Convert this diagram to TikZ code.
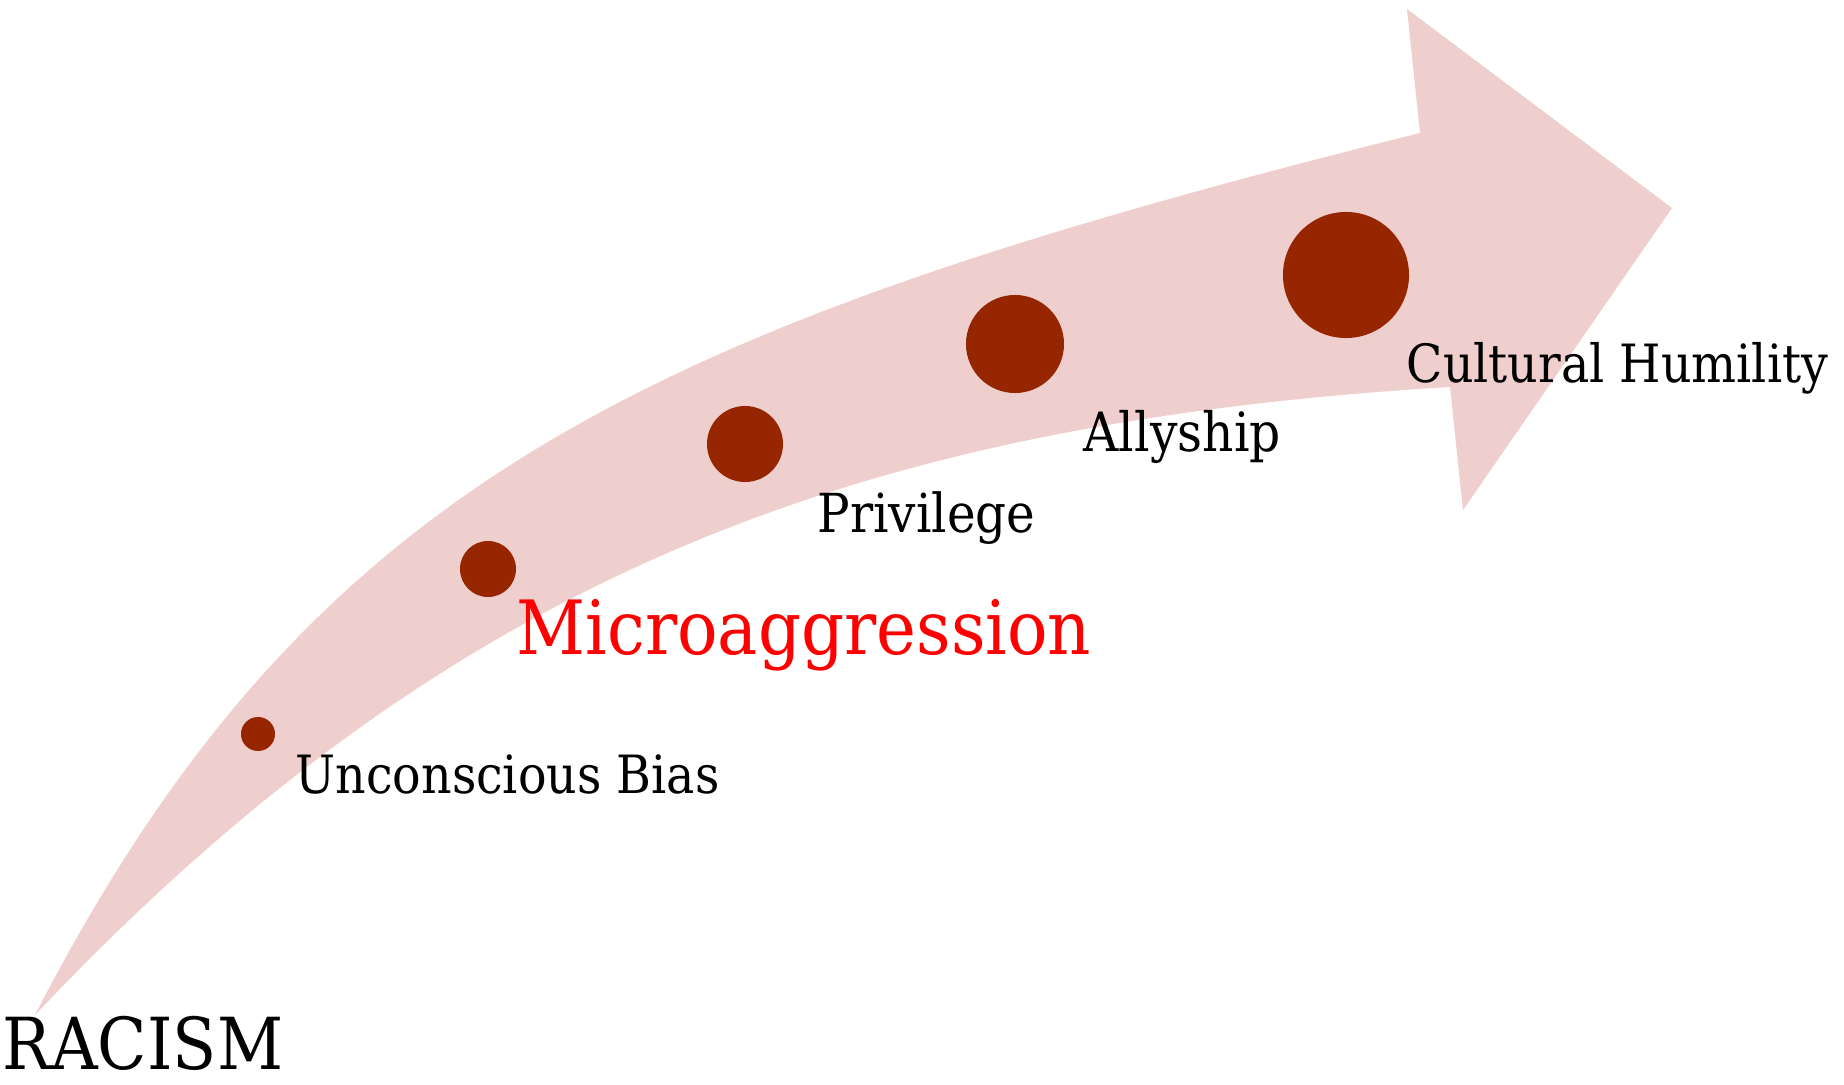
\documentclass[tikz,border=0pt]{standalone}
\usepackage{fontspec}
\setmainfont{DejaVu Serif}[FakeStretch=0.9]
\usepackage{tikz}
\usetikzlibrary{positioning}

\definecolor{bandpink}{RGB}{239,207,205}
\definecolor{dotred}{RGB}{150,38,0}
\definecolor{microred}{RGB}{255,0,0}

\begin{document}
\begin{tikzpicture}[x=0.01cm, y=-0.01cm,
  band/.style={fill=bandpink},
  dot/.style={circle, fill=dotred, inner sep=0pt},
  lbl/.style={anchor=base west, inner sep=0pt, font=\fontsize{15}{18}\selectfont},
  biglbl/.style={lbl, font=\fontsize{21.3}{25}\selectfont}]
\useasboundingbox (0,0) rectangle (1844,1085);
% curved arrow
\fill[band] (35,1015) .. controls (310,482) and (644,327) .. (1420,133)
  -- (1407,9) -- (1672,208) -- (1463,510) -- (1450,387)
  .. controls (850,423) and (447,579) .. (35,1015) -- cycle;
% dots along the arrow
\node[dot, minimum size=0.34cm] (d1) at (258,734) {};
\node[dot, minimum size=0.56cm] (d2) at (488,569) {};
\node[dot, minimum size=0.76cm] (d3) at (745,444) {};
\node[dot, minimum size=0.98cm] (d4) at (1015,344) {};
\node[dot, minimum size=1.26cm] (d5) at (1346,275) {};
% labels
\node[biglbl, font=\fontsize{20.4}{24}\selectfont] (racism) at (2,1069) {RACISM};
\node[lbl] (bias) at (295,793) {Unconscious Bias};
\node[biglbl, text=microred] (micro) at (516,655) {Microaggression};
\node[lbl, font=\fontsize{15.3}{18}\selectfont] (priv) at (817,533) {Privilege};
\node[lbl, font=\fontsize{15.4}{18}\selectfont] (ally) at (1083,452) {Allyship};
\node[lbl] (humility) at (1406,383) {Cultural Humility};
\end{tikzpicture}
\end{document}
